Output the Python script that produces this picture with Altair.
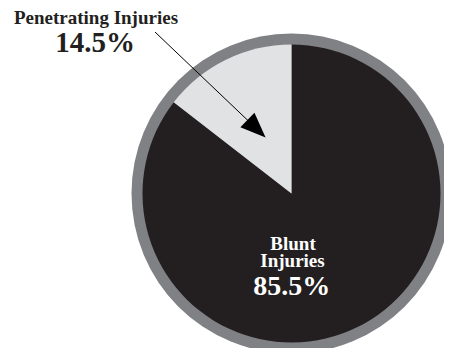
import altair as alt
import pandas as pd
import math

categories = ["Blunt Injuries", "Penetrating Injuries"]
values = [85.5, 14.5]
colors = ["#231f20", "#e1e2e4"]
ring_color = "#808184"

df = pd.DataFrame({"category": categories, "value": values, "order": [0, 1]})
one = pd.DataFrame({"v": [1]})

CX, CY = 283.5, 185.5
FONT = "Liberation Serif"

ring = alt.Chart(one).mark_arc(radius=160, color=ring_color).encode(
    theta=alt.value(0), theta2=alt.value(2 * math.pi), x=alt.value(CX), y=alt.value(CY)
)

pie = alt.Chart(df).mark_arc(radius=149).encode(
    theta=alt.Theta("value:Q", stack=True),
    order=alt.Order("order:Q"),
    color=alt.Color("category:N", scale=alt.Scale(domain=categories, range=colors), legend=None),
    x=alt.value(CX),
    y=alt.value(CY),
)

arrow_line = alt.Chart(one).mark_rule(color="black", strokeWidth=1).encode(
    x=alt.value(147), y=alt.value(24), x2=alt.value(252), y2=alt.value(124)
)

arrow_head = alt.Chart(one).mark_point(
    shape="M0,-1L0.8,1L-0.8,1Z", filled=True, color="black", opacity=1, size=640, angle=134
).encode(x=alt.value(248.5), y=alt.value(120.8))

def label(text, x, y, size, color):
    return alt.Chart(one).mark_text(
        text=text, font=FONT, fontWeight="bold", fontSize=size, align="center",
        baseline="alphabetic", color=color
    ).encode(x=alt.value(x), y=alt.value(y))

chart = alt.layer(
    ring, pie, arrow_line, arrow_head,
    label("Penetrating Injuries", 88, 16.3, 19, "#231f20"),
    label("14.5%", 87, 43.7, 29, "#231f20"),
    label("Blunt", 285, 242.2, 19, "white"),
    label("Injuries", 284.5, 259.3, 19, "white"),
    label("85.5%", 283.7, 287, 28, "white"),
).properties(width=436, height=340, padding=0, autosize="none").configure_view(stroke=None)

chart.save("out.html", embed_options={"renderer": "svg", "actions": False})
